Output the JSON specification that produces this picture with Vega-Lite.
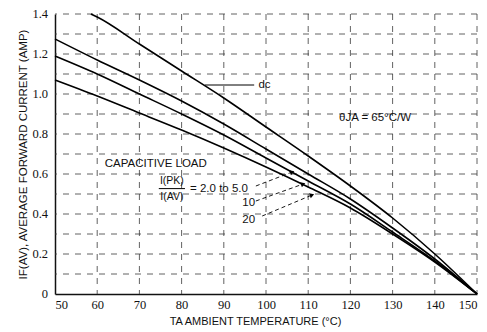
{
  "$schema": "https://vega.github.io/schema/vega-lite/v6.json",
  "width": 422,
  "height": 280,
  "autosize": "none",
  "padding": {"left": 55, "top": 14, "right": 10, "bottom": 38},
  "background": "white",
  "config": {
    "view": {"stroke": null},
    "font": "Liberation Sans",
    "axis": {
      "titleFont": "Liberation Sans",
      "titleFontWeight": "normal",
      "titleColor": "#111",
      "labelFont": "Liberation Sans Narrow",
      "labelFontSize": 12.5,
      "labelColor": "#111",
      "labelOverlap": false,
      "labelBound": false,
      "ticks": false,
      "domainColor": "#111",
      "domainWidth": 1.5,
      "grid": false
    }
  },
  "datasets": {
    "tempLines": [
      {"t": 60}, {"t": 70}, {"t": 80}, {"t": 90}, {"t": 100},
      {"t": 110}, {"t": 120}, {"t": 130}, {"t": 140}, {"t": 150}
    ],
    "currentLines": [
      {"i": 0.1}, {"i": 0.2}, {"i": 0.3}, {"i": 0.4}, {"i": 0.5}, {"i": 0.6}, {"i": 0.7},
      {"i": 0.8}, {"i": 0.9}, {"i": 1.0}, {"i": 1.1}, {"i": 1.2}, {"i": 1.3}, {"i": 1.4}
    ],
    "currentTicks": [
      {"i": 0, "label": "0"},
      {"i": 0.2, "label": "0.2"},
      {"i": 0.4, "label": "0.4"},
      {"i": 0.6, "label": "0.6"},
      {"i": 0.8, "label": "0.8"},
      {"i": 1.0, "label": "1.0"},
      {"i": 1.2, "label": "1.2"},
      {"i": 1.4, "label": "1.4"}
    ],
    "curves": [
      {"series": "dc", "t": 58.5, "i": 1.4},
      {"series": "dc", "t": 60, "i": 1.385},
      {"series": "dc", "t": 70, "i": 1.25},
      {"series": "dc", "t": 80, "i": 1.115},
      {"series": "dc", "t": 90, "i": 0.98},
      {"series": "dc", "t": 100, "i": 0.835},
      {"series": "dc", "t": 110, "i": 0.69},
      {"series": "dc", "t": 120, "i": 0.54},
      {"series": "dc", "t": 130, "i": 0.38},
      {"series": "dc", "t": 140, "i": 0.2},
      {"series": "dc", "t": 150, "i": 0},
      {"series": "2-5", "t": 50, "i": 1.275},
      {"series": "2-5", "t": 60, "i": 1.17},
      {"series": "2-5", "t": 70, "i": 1.07},
      {"series": "2-5", "t": 80, "i": 0.965},
      {"series": "2-5", "t": 90, "i": 0.85},
      {"series": "2-5", "t": 100, "i": 0.725},
      {"series": "2-5", "t": 110, "i": 0.6},
      {"series": "2-5", "t": 120, "i": 0.475},
      {"series": "2-5", "t": 130, "i": 0.33},
      {"series": "2-5", "t": 140, "i": 0.175},
      {"series": "2-5", "t": 150, "i": 0},
      {"series": "10", "t": 50, "i": 1.19},
      {"series": "10", "t": 60, "i": 1.1},
      {"series": "10", "t": 70, "i": 1.0},
      {"series": "10", "t": 80, "i": 0.9},
      {"series": "10", "t": 90, "i": 0.795},
      {"series": "10", "t": 100, "i": 0.68},
      {"series": "10", "t": 110, "i": 0.565},
      {"series": "10", "t": 120, "i": 0.45},
      {"series": "10", "t": 130, "i": 0.31},
      {"series": "10", "t": 140, "i": 0.165},
      {"series": "10", "t": 150, "i": 0},
      {"series": "20", "t": 50, "i": 1.07},
      {"series": "20", "t": 60, "i": 0.99},
      {"series": "20", "t": 70, "i": 0.905},
      {"series": "20", "t": 80, "i": 0.82},
      {"series": "20", "t": 90, "i": 0.73},
      {"series": "20", "t": 100, "i": 0.635},
      {"series": "20", "t": 110, "i": 0.535},
      {"series": "20", "t": 120, "i": 0.43},
      {"series": "20", "t": 130, "i": 0.3},
      {"series": "20", "t": 140, "i": 0.16},
      {"series": "20", "t": 150, "i": 0}
    ],
    "leader": [
      {"t": 85.5, "i": 1.045},
      {"t": 97.2, "i": 1.045}
    ],
    "arrows": [
      {"arrow": "a", "t": 97.6, "i": 0.54},
      {"arrow": "a", "t": 106.2, "i": 0.61},
      {"arrow": "b", "t": 97.6, "i": 0.465},
      {"arrow": "b", "t": 108.8, "i": 0.55},
      {"arrow": "c", "t": 99.1, "i": 0.39},
      {"arrow": "c", "t": 110.9, "i": 0.495}
    ],
    "heads": [
      {"t": 106.2, "i": 0.61},
      {"t": 108.8, "i": 0.55},
      {"t": 110.9, "i": 0.495}
    ],
    "fractionBar": [
      {"t": 74.6, "i": 0.527},
      {"t": 80.8, "i": 0.527}
    ],
    "notes": [
      {"t": 98.2, "i": 1.045, "label": "dc"},
      {"t": 117.3, "i": 0.88, "label": "θJA = 65°C/W"},
      {"t": 61.8, "i": 0.65, "label": "CAPACITIVE LOAD"},
      {"t": 82.0, "i": 0.525, "label": "= 2.0 to 5.0"},
      {"t": 94.4, "i": 0.455, "label": "10"},
      {"t": 94.4, "i": 0.37, "label": "20"}
    ],
    "ratio": [
      {"t": 77.7, "i": 0.567, "label": "I(PK)"},
      {"t": 77.7, "i": 0.483, "label": "I(AV)"}
    ]
  },
  "layer": [
    {
      "data": {"name": "tempLines"},
      "mark": {"type": "rule", "color": "#3a3a3a", "strokeWidth": 0.8, "strokeDash": [6, 6]},
      "encoding": {
        "x": {
          "field": "t",
          "type": "quantitative",
          "scale": {"domain": [50, 150], "nice": false, "zero": false},
          "axis": {
            "values": [50, 60, 70, 80, 90, 100, 110, 120, 130, 140, 150],
            "title": "TA  AMBIENT TEMPERATURE (°C)",
            "titleFontSize": 11,
            "titlePadding": 5,
            "titleX": 200,
            "labelPadding": 4
          }
        }
      }
    },
    {
      "data": {"name": "currentLines"},
      "mark": {"type": "rule", "color": "#3a3a3a", "strokeWidth": 0.8, "strokeDash": [6, 6]},
      "encoding": {
        "y": {
          "field": "i",
          "type": "quantitative",
          "scale": {"domain": [0, 1.4], "nice": false},
          "axis": {
            "labels": false,
            "title": "IF(AV), AVERAGE FORWARD CURRENT (AMP)",
            "titleFontSize": 11.5,
            "titlePadding": 27
          }
        }
      }
    },
    {
      "data": {"name": "currentTicks"},
      "mark": {"type": "text", "align": "right", "baseline": "middle", "dx": -7, "font": "Liberation Sans Narrow", "fontSize": 12.5, "color": "#111"},
      "encoding": {
        "x": {"datum": 50, "type": "quantitative"},
        "y": {"field": "i", "type": "quantitative"},
        "text": {"field": "label"}
      }
    },
    {
      "data": {"name": "curves"},
      "mark": {"type": "line", "color": "#000", "strokeWidth": 1.6, "interpolate": "monotone"},
      "encoding": {
        "x": {"field": "t", "type": "quantitative"},
        "y": {"field": "i", "type": "quantitative"},
        "detail": {"field": "series"}
      }
    },
    {
      "data": {"name": "leader"},
      "mark": {"type": "line", "color": "#000", "strokeWidth": 1},
      "encoding": {
        "x": {"field": "t", "type": "quantitative"},
        "y": {"field": "i", "type": "quantitative"}
      }
    },
    {
      "data": {"name": "arrows"},
      "mark": {"type": "line", "color": "#000", "strokeWidth": 0.9, "strokeDash": [4, 3]},
      "encoding": {
        "x": {"field": "t", "type": "quantitative"},
        "y": {"field": "i", "type": "quantitative"},
        "detail": {"field": "arrow"}
      }
    },
    {
      "data": {"name": "heads"},
      "mark": {"type": "point", "shape": "triangle-right", "filled": true, "color": "#000", "size": 28, "angle": 339, "opacity": 1},
      "encoding": {
        "x": {"field": "t", "type": "quantitative"},
        "y": {"field": "i", "type": "quantitative"}
      }
    },
    {
      "data": {"name": "fractionBar"},
      "mark": {"type": "line", "color": "#000", "strokeWidth": 1},
      "encoding": {
        "x": {"field": "t", "type": "quantitative"},
        "y": {"field": "i", "type": "quantitative"}
      }
    },
    {
      "data": {"name": "notes"},
      "mark": {"type": "text", "align": "left", "baseline": "middle", "font": "Liberation Sans", "fontSize": 11.5, "color": "#111"},
      "encoding": {
        "x": {"field": "t", "type": "quantitative"},
        "y": {"field": "i", "type": "quantitative"},
        "text": {"field": "label"}
      }
    },
    {
      "data": {"name": "ratio"},
      "mark": {"type": "text", "align": "center", "baseline": "middle", "font": "Liberation Sans", "fontSize": 10.5, "color": "#111"},
      "encoding": {
        "x": {"field": "t", "type": "quantitative"},
        "y": {"field": "i", "type": "quantitative"},
        "text": {"field": "label"}
      }
    }
  ]
}
